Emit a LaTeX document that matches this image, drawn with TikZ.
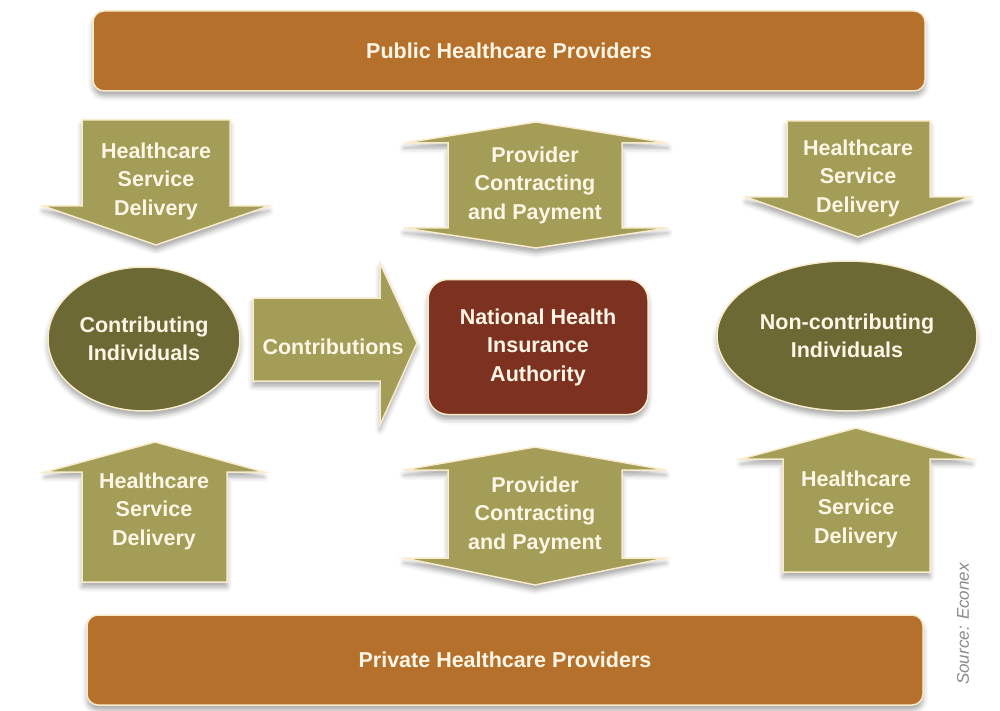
\documentclass[tikz,border=0pt]{standalone}
\usepackage{fontspec}
\setmainfont{Liberation Sans}
\usetikzlibrary{shapes.geometric,shadows.blur}

\definecolor{barfill}{HTML}{B5702B}
\definecolor{arrowfill}{HTML}{A39D58}
\definecolor{discfill}{HTML}{6C6934}
\definecolor{hubfill}{HTML}{7D3121}
\definecolor{rim}{HTML}{F9EBCB}
\definecolor{cream}{HTML}{FDF6E6}
\definecolor{note}{HTML}{8A8A8A}

\tikzset{
  softshadow/.style={blur shadow={shadow xshift=0pt, shadow yshift=-5pt,
      shadow blur radius=5pt, shadow opacity=35}},
  lbl/.style={text=cream, align=center, inner sep=0pt,
      font=\bfseries\fontsize{21.5}{28.5}\selectfont},
  bar/.style={lbl, fill=barfill, draw=rim, line width=1.5pt,
      rounded corners=11pt, softshadow},
  flow/.style={fill=arrowfill, draw=rim, line width=1.5pt, softshadow},
  disc/.style={lbl, ellipse, fill=discfill, draw=rim, line width=1.5pt,
      softshadow},
  hub/.style={lbl, fill=hubfill, draw=rim, line width=1.5pt,
      rounded corners=20pt, softshadow},
}

\begin{document}
\begin{tikzpicture}[x=1pt, y=-1pt]
  \useasboundingbox (0,0) rectangle (1000,711);

  % provider bars
  \node[bar, minimum width=832pt, minimum height=80pt] (public) at (509,51)
    {Public Healthcare Providers};
  \node[bar, minimum width=836pt, minimum height=90pt] (private) at (505,660)
    {Private Healthcare Providers};

  % upper flows
  \path[flow] (82,120) -- (230,120) -- (230,206) -- (269,206) -- (156,245)
    -- (43,206) -- (82,206) -- cycle;
  \node[lbl] (svcTL) at (156,181) {Healthcare\\Service\\Delivery};

  \path[flow] (536,122) -- (668,143) -- (622,143) -- (622,228) -- (668,228)
    -- (536,248) -- (404,228) -- (448,228) -- (448,143) -- (404,143) -- cycle;
  \node[lbl] (payT) at (535,185) {Provider\\Contracting\\and Payment};

  \path[flow] (787,121) -- (930,121) -- (930,197) -- (970,197) -- (858,237)
    -- (746,197) -- (787,197) -- cycle;
  \node[lbl] (svcTR) at (858,178) {Healthcare\\Service\\Delivery};

  % middle row
  \node[disc, minimum width=192pt, minimum height=144pt] (contrib) at (144,339)
    {Contributing\\Individuals};

  \path[flow] (253,298) -- (380,298) -- (380,263) -- (417,343) -- (380,425)
    -- (380,381) -- (253,381) -- cycle;
  \node[lbl] (contribs) at (333,347) {Contributions};

  \node[hub, minimum width=220pt, minimum height=135pt] (nhia) at (538,347)
    {National Health\\Insurance\\Authority};

  \node[disc, minimum width=260pt, minimum height=150pt] (noncontrib) at (847,336)
    {Non-contributing\\Individuals};

  % lower flows
  \path[flow] (155,442) -- (264,472) -- (227,472) -- (227,582) -- (82,582)
    -- (82,472) -- (45,472) -- cycle;
  \node[lbl] (svcBL) at (154,511) {Healthcare\\Service\\Delivery};

  \path[flow] (535,447) -- (666,470) -- (622,470) -- (622,558) -- (666,558)
    -- (535,585) -- (404,558) -- (448,558) -- (448,470) -- (404,470) -- cycle;
  \node[lbl] (payB) at (535,515) {Provider\\Contracting\\and Payment};

  \path[flow] (856,428) -- (972,459) -- (930,459) -- (930,572) -- (783,572)
    -- (783,459) -- (741,459) -- cycle;
  \node[lbl] (svcBR) at (856,509) {Healthcare\\Service\\Delivery};

  % source line
  \node[text=note, rotate=90, inner sep=0pt,
        font=\itshape\fontsize{17}{20}\selectfont] (source) at (963,624)
    {Source: Econex};
\end{tikzpicture}
\end{document}
